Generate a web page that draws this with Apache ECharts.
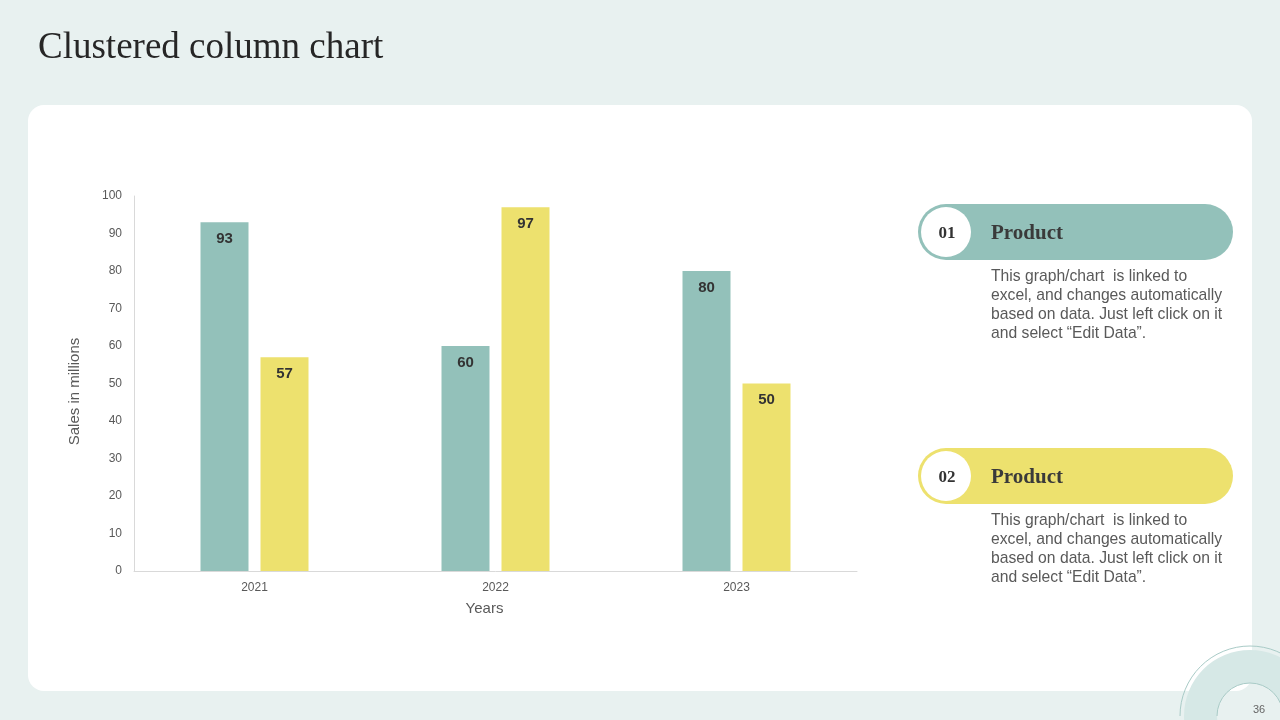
<!DOCTYPE html>
<html>
<head>
<meta charset="utf-8">
<script src="https://cdn.jsdelivr.net/npm/echarts@6/dist/echarts.min.js"></script>
<style>
html,body{margin:0;padding:0;background:#E8F1F0;}
#c{width:1280px;height:720px;}
</style>
</head>
<body>
<div id="c"></div>
<script>
const categories = ['2021', '2022', '2023'];
const product1 = [93, 60, 80];
const product2 = [57, 97, 50];
const yTicks = { min: 0, max: 100, interval: 10 };
const seriesNames = ['Product 01', 'Product 02'];
const pageTitle = 'Clustered column chart';
const desc = ['This graph/chart  is linked to', 'excel, and changes automatically', 'based on data. Just left click on it', 'and select \u201cEdit Data\u201d.'];

const teal = '#93C1BA', yellow = '#EDE16E';
const chart = echarts.init(document.getElementById('c'));

function pill(y, color, num) {
  const els = [
    { type: 'rect', shape: { x: 918, y: y, width: 315, height: 56, r: 28 }, style: { fill: color } },
    { type: 'circle', shape: { cx: 946, cy: y + 28, r: 25 }, style: { fill: '#fff' } },
    { type: 'text', style: { x: 947, y: y + 30, text: num, fill: '#333', font: 'bold 17px "Liberation Serif", serif', align: 'center', verticalAlign: 'middle' } },
    { type: 'text', style: { x: 991, y: y + 30, text: 'Product', fill: '#3a3a3a', font: 'bold 21px "Liberation Serif", serif', verticalAlign: 'middle' } }
  ];
  desc.forEach((t, i) => els.push({ type: 'text', style: { x: 991, y: y + 73 + i * 19, text: t, fill: '#595959', font: '15.7px "Liberation Sans", Arial, sans-serif', verticalAlign: 'middle' } }));
  return els;
}

const graphics = [
  { type: 'rect', z: -10, shape: { x: 28, y: 105, width: 1224, height: 586, r: 16 }, style: { fill: '#fff' } },
  { type: 'text', style: { x: 38, y: 48, text: pageTitle, fill: '#262626', font: '37px "Liberation Serif", "Times New Roman", serif', verticalAlign: 'middle' } },
  { type: 'ring', z: -5, shape: { cx: 1250, cy: 716, r: 66, r0: 33 }, style: { fill: '#D6E8E6' } },
  { type: 'arc', z: -4, shape: { cx: 1250, cy: 716, r: 70, startAngle: Math.PI, endAngle: Math.PI * 2 }, style: { stroke: '#A9CBC7', lineWidth: 1, fill: null } },
  { type: 'arc', z: -4, shape: { cx: 1250, cy: 716, r: 33, startAngle: Math.PI, endAngle: Math.PI * 2 }, style: { stroke: '#A9CBC7', lineWidth: 1, fill: null } },
  { type: 'text', style: { x: 1259, y: 710, text: '36', fill: '#666', font: '11px "Liberation Sans", Arial, sans-serif', align: 'center', verticalAlign: 'middle' } }
].concat(pill(204, teal, '01'), pill(448, yellow, '02'));

chart.setOption({
  backgroundColor: '#E8F1F0',
  animation: false,
  graphic: graphics,
  grid: { left: 134, right: 423, top: 196, bottom: 149, containLabel: false },
  xAxis: {
    type: 'category', data: categories,
    name: 'Years', nameLocation: 'middle', nameGap: 30,
    nameTextStyle: { color: '#595959', fontSize: 15, fontFamily: 'Liberation Sans, Arial, sans-serif', padding: [0, 22, 0, 0] },
    axisLine: { lineStyle: { color: '#D9D9D9' } },
    axisTick: { show: false },
    axisLabel: { color: '#595959', fontSize: 12, margin: 11, fontFamily: 'Liberation Sans, Arial, sans-serif' }
  },
  yAxis: {
    type: 'value', min: yTicks.min, max: yTicks.max, interval: yTicks.interval,
    name: 'Sales in millions', nameLocation: 'middle', nameGap: 52, nameRotate: 90,
    nameTextStyle: { color: '#595959', fontSize: 15, fontFamily: 'Liberation Sans, Arial, sans-serif', padding: [0, 16, 0, 0] },
    axisLine: { show: true, lineStyle: { color: '#D9D9D9' } },
    axisTick: { show: false },
    splitLine: { show: false },
    axisLabel: { color: '#595959', fontSize: 12, margin: 12, fontFamily: 'Liberation Sans, Arial, sans-serif' }
  },
  series: [
    { name: seriesNames[0], type: 'bar', data: product1, barWidth: 48, barGap: '25%', itemStyle: { color: teal },
      label: { show: true, position: 'insideTop', distance: 9, color: '#333', fontWeight: 'bold', fontSize: 15, fontFamily: 'Liberation Sans, Arial, sans-serif' } },
    { name: seriesNames[1], type: 'bar', data: product2, barWidth: 48, itemStyle: { color: yellow },
      label: { show: true, position: 'insideTop', distance: 9, color: '#333', fontWeight: 'bold', fontSize: 15, fontFamily: 'Liberation Sans, Arial, sans-serif' } }
  ]
});
</script>
</body>
</html>
